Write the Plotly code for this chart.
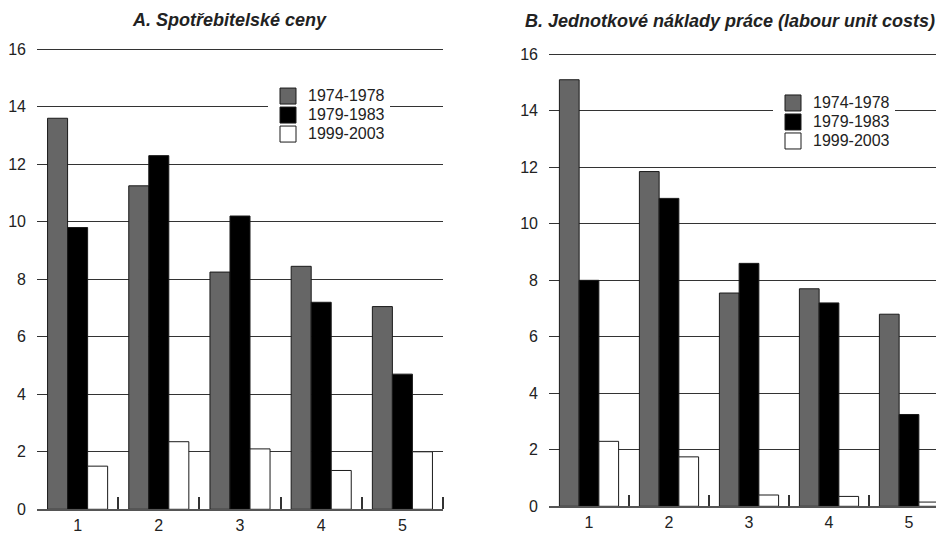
import plotly.graph_objects as go

categories = [1, 2, 3, 4, 5]
tick_labels = ["1", "2", "3", "4", "5"]
series_names = ["1974-1978", "1979-1983", "1999-2003"]

a_1974_1978 = [13.6, 11.25, 8.25, 8.45, 7.05]
a_1979_1983 = [9.8, 12.3, 10.2, 7.2, 4.7]
a_1999_2003 = [1.5, 2.35, 2.1, 1.35, 2.0]

b_1974_1978 = [15.1, 11.85, 7.55, 7.7, 6.8]
b_1979_1983 = [8.0, 10.9, 8.6, 7.2, 3.25]
b_1999_2003 = [2.3, 1.75, 0.4, 0.35, 0.15]

title_a = "A. Spotřebitelské ceny"
title_b = "B. Jednotkové náklady práce (labour unit costs)"

fills = ["#666666", "#000000", "#ffffff"]
FONT = "Liberation Sans, Arial, sans-serif"

fig = go.Figure()

panels = [
    ("x", "y", "legend", [a_1974_1978, a_1979_1983, a_1999_2003]),
    ("x2", "y2", "legend2", [b_1974_1978, b_1979_1983, b_1999_2003]),
]
for xa, ya, lg, series in panels:
    for name, vals, col in zip(series_names, series, fills):
        fig.add_trace(go.Bar(
            x=categories, y=vals, name=name, xaxis=xa, yaxis=ya,
            marker=dict(color=col, line=dict(color="#1a1a1a", width=1)),
            showlegend=False, hoverinfo="y",
        ))
    for name, col in zip(series_names, fills):
        fig.add_trace(go.Scatter(
            x=[None], y=[None], mode="markers",
            name=f'<span style="font-size:16px">{name}</span>',
            xaxis=xa, yaxis=ya, legend=lg,
            marker=dict(symbol="square", size=16, color=col,
                        line=dict(color="#1a1a1a", width=1)),
        ))

yaxis_common = dict(
    range=[0, 16.1], tickvals=[0, 2, 4, 6, 8, 10, 12, 14, 16],
    showgrid=True, gridcolor="#333333", gridwidth=1.4,
    zeroline=False, showline=False, ticks="", ticklabelstandoff=10,
    tickfont=dict(family=FONT, size=16, color="#222222"), automargin=False,
)
xaxis_common = dict(
    tickvals=categories, ticktext=tick_labels, ticks="",
    showgrid=False, zeroline=False, showline=True, linecolor="#555555", linewidth=2,
    tickfont=dict(family=FONT, size=16, color="#222222"),
    automargin=False,
)

fig.update_layout(
    width=944, height=533,
    margin=dict(l=0, r=0, t=0, b=0),
    paper_bgcolor="white", plot_bgcolor="white",
    barmode="group", bargap=0.26, bargroupgap=0,
    font=dict(family=FONT, color="#222222"),
    xaxis=dict(domain=[29/944, 435/944], range=[0.5, 5.5], ticklabelstandoff=1,
               minor=dict(tickmode="array", tickvals=[1.5, 2.5, 3.5, 4.5, 5.5],
                          ticks="inside", ticklen=12, tickwidth=1.5, tickcolor="#333333"),
               anchor="y", **xaxis_common),
    yaxis=dict(domain=[0.0595, 0.9280], anchor="x", **yaxis_common),
    xaxis2=dict(domain=[541/944, 1.0], range=[0.5, 0.5 + 403/80], ticklabelstandoff=0,
                minor=dict(tickmode="array", tickvals=[1.5, 2.5, 3.5, 4.5, 5.5],
                           ticks="inside", ticklen=11, tickwidth=1.5, tickcolor="#333333"),
                anchor="y2", **xaxis_common),
    yaxis2=dict(domain=[0.0651, 0.9184], anchor="x2", **yaxis_common),
    legend=dict(x=260/944, y=0.862, xanchor="left", yanchor="top",
                bgcolor="white", borderwidth=0,
                font=dict(family=FONT, size=12.3, color="#222222"),
                itemclick=False, tracegroupgap=0),
    legend2=dict(x=765/944, y=0.849, xanchor="left", yanchor="top",
                 bgcolor="white", borderwidth=0,
                 font=dict(family=FONT, size=12.3, color="#222222"),
                 itemclick=False, tracegroupgap=0),
    annotations=[
        dict(text=f"<b><i>{title_a}</i></b>", x=221/944, y=(533-12)/533,
             xref="paper", yref="paper", xanchor="center", yanchor="middle",
             showarrow=False, font=dict(family=FONT, size=18, color="#222222")),
        dict(text=f"<b><i>{title_b}</i></b>", x=722/944, y=(533-13)/533,
             xref="paper", yref="paper", xanchor="center", yanchor="middle",
             showarrow=False, font=dict(family=FONT, size=18, color="#222222")),
    ],
)

fig.write_html("out.html")
